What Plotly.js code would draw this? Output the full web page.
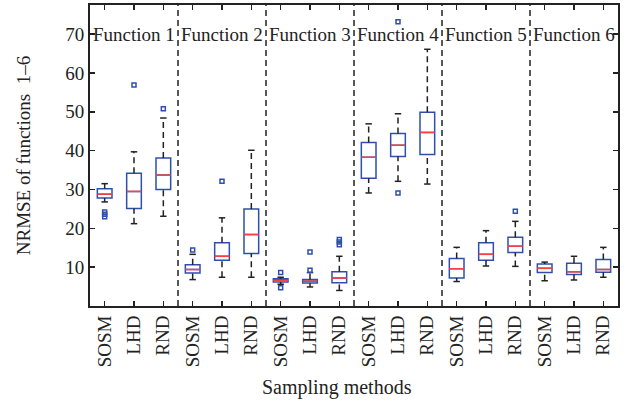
<!DOCTYPE html>
<html>
<head>
<meta charset="utf-8">
<script src="https://cdn.plot.ly/plotly-3.0.1.min.js"></script>
<style>
  html, body { margin: 0; padding: 0; background: #fff; }
  #chart { width: 626px; height: 402px; }
</style>
</head>
<body>
<div id="chart"></div>
<script>
// Sampling methods compared for each test function
const methods = ["SOSM", "LHD", "RND"];
const functions = ["Function 1", "Function 2", "Function 3", "Function 4", "Function 5", "Function 6"];

// Box statistics, one entry per (function, method), in order F1-SOSM, F1-LHD, F1-RND, F2-SOSM, ...
const lowerWhisker = [26.8, 21.2, 23.1,  6.8,  7.4,  7.4,  5.6, 4.9,  4.0, 29.1, 32.1, 31.4,  6.3, 10.3, 10.2, 6.5, 6.7, 7.4];
const q1           = [27.8, 25.1, 30.0,  8.5, 11.8, 13.5,  6.2, 5.9,  6.0, 32.9, 38.5, 39.0,  7.2, 11.8, 13.8, 8.6, 8.1, 8.7];
const median       = [28.8, 29.5, 33.7,  9.4, 12.8, 18.4,  6.6, 6.4,  7.2, 38.3, 41.4, 44.7,  9.6, 13.3, 15.4, 9.7, 8.8, 9.4];
const q3           = [30.2, 34.2, 38.1, 10.6, 16.3, 25.0,  7.0, 6.8,  8.8, 42.1, 44.4, 49.9, 12.2, 16.3, 17.7, 10.8, 11.0, 12.0];
const upperWhisker = [31.5, 39.7, 48.4, 13.3, 22.7, 40.1,  7.4, 8.6, 12.8, 46.9, 49.5, 66.1, 15.1, 19.4, 21.8, 11.3, 12.8, 15.1];

// Outliers: box index (1-based position) and value
const outlierPos = [1, 1, 1, 2, 3, 4, 5, 7, 7, 8, 8, 9, 9, 9, 11, 11, 15];
const outlierVal = [24.2, 23.6, 23.0, 56.9, 50.8, 14.4, 32.1, 8.6, 4.7, 13.9, 9.2, 17.1, 16.5, 15.8, 73.2, 29.1, 24.4];

const yTicks = [10, 20, 30, 40, 50, 60, 70];

// Derived positions and labels
const nBoxes = functions.length * methods.length;
const positions = Array.from({length: nBoxes}, (_, i) => i + 1);
const tickText = positions.map((_, i) => methods[i % methods.length]);
const groupCenters = functions.map((_, g) => g * methods.length + 2);

const boxWidth = 0.5;
const capHalf = 0.11;
const blue = "#2f4fae";
const red = "#ff4040";
const ink = "#222";

// Boxes (rectangles) drawn from quartiles
const boxTrace = {
  type: "box",
  x: positions,
  q1: q1,
  median: median,
  q3: q3,
  lowerfence: q1,
  upperfence: q3,
  width: boxWidth,
  line: {color: blue, width: 1.5},
  fillcolor: "rgba(255,255,255,0)",
  hoverinfo: "skip",
  showlegend: false
};

// Dashed whiskers, caps and red medians
const wx = [], wy = [], cx = [], cy = [], mx = [], my = [];
positions.forEach((p, i) => {
  wx.push(p, p, null, p, p, null);
  wy.push(q3[i], upperWhisker[i], null, lowerWhisker[i], q1[i], null);
  cx.push(p - capHalf, p + capHalf, null, p - capHalf, p + capHalf, null);
  cy.push(upperWhisker[i], upperWhisker[i], null, lowerWhisker[i], lowerWhisker[i], null);
  mx.push(p - boxWidth / 2, p + boxWidth / 2, null);
  my.push(median[i], median[i], null);
});

const whiskerTrace = {
  type: "scatter", mode: "lines", x: wx, y: wy,
  line: {color: ink, width: 1.5, dash: "6px,4px"},
  hoverinfo: "skip", showlegend: false
};
const capTrace = {
  type: "scatter", mode: "lines", x: cx, y: cy,
  line: {color: ink, width: 1.5},
  hoverinfo: "skip", showlegend: false
};
const medianTrace = {
  type: "scatter", mode: "lines", x: mx, y: my,
  line: {color: red, width: 1.5},
  hoverinfo: "skip", showlegend: false
};
const outlierTrace = {
  type: "scatter", mode: "markers", x: outlierPos, y: outlierVal,
  marker: {symbol: "square-open", size: 4, color: blue, line: {width: 1.5, color: blue}},
  hoverinfo: "skip", showlegend: false
};

// Dashed separators between function groups
const shapes = functions.slice(1).map((_, g) => ({
  type: "line", xref: "x", yref: "paper",
  x0: (g + 1) * methods.length + 0.5, x1: (g + 1) * methods.length + 0.5,
  y0: 0, y1: 1,
  line: {color: ink, width: 1.5, dash: "6px,4px"}
}));

const font = {family: "Liberation Serif, serif", size: 19, color: ink};

const annotations = functions.map((f, g) => ({
  x: groupCenters[g], y: 70, xref: "x", yref: "y",
  text: f, showarrow: false,
  font: font
}));

// x-axis caption placed below the rotated tick labels
annotations.push({
  xref: "paper", yref: "paper", x: 0.468, y: -0.272,
  xanchor: "center", yanchor: "middle",
  text: "Sampling methods", showarrow: false,
  font: {family: font.family, size: 20, color: ink}
});

const layout = {
  width: 626, height: 402,
  margin: {l: 90, r: 8, t: 5, b: 96},
  paper_bgcolor: "#fff", plot_bgcolor: "#fff",
  font: font,
  showlegend: false,
  xaxis: {
    range: [0.5, nBoxes + 0.5],
    tickvals: positions, ticktext: tickText, tickangle: -90,
    ticks: "inside", ticklen: 5, tickwidth: 1.5, tickcolor: ink,
    showline: true, linecolor: ink, linewidth: 2, mirror: "ticks",
    showgrid: false, zeroline: false,
    tickfont: font
  },
  yaxis: {
    range: [0, 77.5],
    tickvals: yTicks,
    ticks: "inside", ticklen: 5, tickwidth: 1.5, tickcolor: ink,
    showline: true, linecolor: ink, linewidth: 2, mirror: "ticks",
    showgrid: false, zeroline: false,
    tickfont: font,
    title: {text: "NRMSE of functions  1–6", font: font, standoff: 30}
  },
  shapes: shapes,
  annotations: annotations
};

Plotly.newPlot("chart", [boxTrace, whiskerTrace, capTrace, medianTrace, outlierTrace], layout, {staticPlot: true, displayModeBar: false});
</script>
</body>
</html>
